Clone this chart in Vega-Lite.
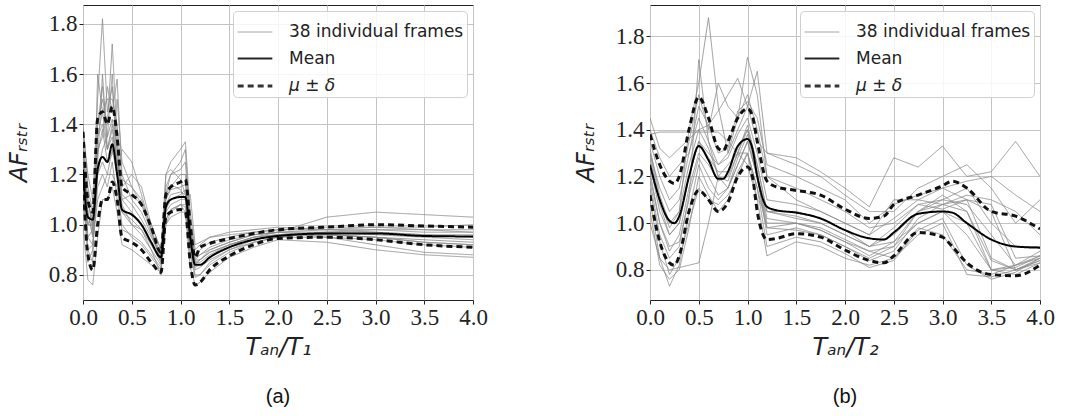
{
"$schema": "https://vega.github.io/schema/vega-lite/v6.json",
"padding": {"left": 6, "top": 4, "right": 5, "bottom": 5},
"background": "white",
"spacing": 85,
"resolve": {"scale": {"x": "independent", "y": "independent", "color": "independent", "strokeDash": "independent", "strokeWidth": "independent"}, "legend": {"color": "independent", "strokeDash": "independent", "strokeWidth": "independent"}},
"datasets": {
"pa": [
{"id":"a1","k":"f","x":0,"y":1.38},{"id":"a1","k":"f","x":0.05,"y":1.2},{"id":"a1","k":"f","x":0.1,"y":1.1},{"id":"a1","k":"f","x":0.15,"y":1.5},{"id":"a1","k":"f","x":0.2,"y":1.82},{"id":"a1","k":"f","x":0.25,"y":1.45},{"id":"a1","k":"f","x":0.3,"y":1.55},{"id":"a1","k":"f","x":0.35,"y":1.3},{"id":"a1","k":"f","x":0.4,"y":1.12},{"id":"a1","k":"f","x":0.5,"y":1.08},{"id":"a1","k":"f","x":0.6,"y":1.02},{"id":"a1","k":"f","x":0.7,"y":0.95},{"id":"a1","k":"f","x":0.8,"y":0.88},{"id":"a1","k":"f","x":0.85,"y":1.1},{"id":"a1","k":"f","x":0.9,"y":1.14},{"id":"a1","k":"f","x":1.0,"y":1.15},{"id":"a1","k":"f","x":1.05,"y":1.16},{"id":"a1","k":"f","x":1.1,"y":1.0},{"id":"a1","k":"f","x":1.15,"y":0.88},{"id":"a1","k":"f","x":1.2,"y":0.9},{"id":"a1","k":"f","x":1.3,"y":0.93},{"id":"a1","k":"f","x":1.5,"y":0.95},{"id":"a1","k":"f","x":1.75,"y":0.97},{"id":"a1","k":"f","x":2.0,"y":0.98},{"id":"a1","k":"f","x":2.5,"y":0.99},{"id":"a1","k":"f","x":3.0,"y":0.99},{"id":"a1","k":"f","x":3.5,"y":0.98},{"id":"a1","k":"f","x":4.0,"y":0.98},
{"id":"a2","k":"f","x":0,"y":1.3},{"id":"a2","k":"f","x":0.05,"y":1.05},{"id":"a2","k":"f","x":0.1,"y":0.95},{"id":"a2","k":"f","x":0.15,"y":1.4},{"id":"a2","k":"f","x":0.2,"y":1.5},{"id":"a2","k":"f","x":0.25,"y":1.4},{"id":"a2","k":"f","x":0.3,"y":1.72},{"id":"a2","k":"f","x":0.35,"y":1.35},{"id":"a2","k":"f","x":0.4,"y":1.1},{"id":"a2","k":"f","x":0.5,"y":1.05},{"id":"a2","k":"f","x":0.6,"y":1.0},{"id":"a2","k":"f","x":0.7,"y":0.92},{"id":"a2","k":"f","x":0.8,"y":0.85},{"id":"a2","k":"f","x":0.85,"y":1.12},{"id":"a2","k":"f","x":0.9,"y":1.2},{"id":"a2","k":"f","x":1.0,"y":1.25},{"id":"a2","k":"f","x":1.05,"y":1.3},{"id":"a2","k":"f","x":1.1,"y":1.0},{"id":"a2","k":"f","x":1.15,"y":0.86},{"id":"a2","k":"f","x":1.2,"y":0.88},{"id":"a2","k":"f","x":1.3,"y":0.91},{"id":"a2","k":"f","x":1.5,"y":0.94},{"id":"a2","k":"f","x":1.75,"y":0.96},{"id":"a2","k":"f","x":2.0,"y":0.97},{"id":"a2","k":"f","x":2.5,"y":1.03},{"id":"a2","k":"f","x":3.0,"y":1.05},{"id":"a2","k":"f","x":3.5,"y":1.04},{"id":"a2","k":"f","x":4.0,"y":1.03},
{"id":"a3","k":"f","x":0,"y":1.15},{"id":"a3","k":"f","x":0.05,"y":0.9},{"id":"a3","k":"f","x":0.1,"y":0.85},{"id":"a3","k":"f","x":0.15,"y":1.6},{"id":"a3","k":"f","x":0.2,"y":1.45},{"id":"a3","k":"f","x":0.25,"y":1.3},{"id":"a3","k":"f","x":0.3,"y":1.4},{"id":"a3","k":"f","x":0.35,"y":1.25},{"id":"a3","k":"f","x":0.4,"y":1.15},{"id":"a3","k":"f","x":0.5,"y":1.2},{"id":"a3","k":"f","x":0.6,"y":1.15},{"id":"a3","k":"f","x":0.7,"y":1.0},{"id":"a3","k":"f","x":0.8,"y":0.9},{"id":"a3","k":"f","x":0.85,"y":1.2},{"id":"a3","k":"f","x":0.9,"y":1.25},{"id":"a3","k":"f","x":1.0,"y":1.3},{"id":"a3","k":"f","x":1.05,"y":1.33},{"id":"a3","k":"f","x":1.1,"y":1.05},{"id":"a3","k":"f","x":1.15,"y":0.9},{"id":"a3","k":"f","x":1.2,"y":0.92},{"id":"a3","k":"f","x":1.3,"y":0.95},{"id":"a3","k":"f","x":1.5,"y":0.97},{"id":"a3","k":"f","x":1.75,"y":0.98},{"id":"a3","k":"f","x":2.0,"y":0.99},{"id":"a3","k":"f","x":2.5,"y":0.98},{"id":"a3","k":"f","x":3.0,"y":0.97},{"id":"a3","k":"f","x":3.5,"y":0.96},{"id":"a3","k":"f","x":4.0,"y":0.96},
{"id":"a4","k":"f","x":0,"y":1.0},{"id":"a4","k":"f","x":0.05,"y":0.78},{"id":"a4","k":"f","x":0.1,"y":0.76},{"id":"a4","k":"f","x":0.15,"y":0.95},{"id":"a4","k":"f","x":0.2,"y":1.1},{"id":"a4","k":"f","x":0.25,"y":1.1},{"id":"a4","k":"f","x":0.3,"y":1.15},{"id":"a4","k":"f","x":0.35,"y":1.05},{"id":"a4","k":"f","x":0.4,"y":0.92},{"id":"a4","k":"f","x":0.5,"y":0.9},{"id":"a4","k":"f","x":0.6,"y":0.87},{"id":"a4","k":"f","x":0.7,"y":0.84},{"id":"a4","k":"f","x":0.8,"y":0.81},{"id":"a4","k":"f","x":0.85,"y":1.0},{"id":"a4","k":"f","x":0.9,"y":1.03},{"id":"a4","k":"f","x":1.0,"y":1.05},{"id":"a4","k":"f","x":1.05,"y":1.05},{"id":"a4","k":"f","x":1.1,"y":0.83},{"id":"a4","k":"f","x":1.15,"y":0.76},{"id":"a4","k":"f","x":1.2,"y":0.77},{"id":"a4","k":"f","x":1.3,"y":0.81},{"id":"a4","k":"f","x":1.5,"y":0.87},{"id":"a4","k":"f","x":1.75,"y":0.91},{"id":"a4","k":"f","x":2.0,"y":0.94},{"id":"a4","k":"f","x":2.5,"y":0.93},{"id":"a4","k":"f","x":3.0,"y":0.9},{"id":"a4","k":"f","x":3.5,"y":0.88},{"id":"a4","k":"f","x":4.0,"y":0.87},
{"id":"a5","k":"f","x":0,"y":1.25},{"id":"a5","k":"f","x":0.05,"y":1.0},{"id":"a5","k":"f","x":0.1,"y":1.0},{"id":"a5","k":"f","x":0.15,"y":1.3},{"id":"a5","k":"f","x":0.2,"y":1.35},{"id":"a5","k":"f","x":0.25,"y":1.55},{"id":"a5","k":"f","x":0.3,"y":1.45},{"id":"a5","k":"f","x":0.35,"y":1.58},{"id":"a5","k":"f","x":0.4,"y":1.2},{"id":"a5","k":"f","x":0.5,"y":1.1},{"id":"a5","k":"f","x":0.6,"y":1.05},{"id":"a5","k":"f","x":0.7,"y":0.96},{"id":"a5","k":"f","x":0.8,"y":0.86},{"id":"a5","k":"f","x":0.85,"y":1.08},{"id":"a5","k":"f","x":0.9,"y":1.12},{"id":"a5","k":"f","x":1.0,"y":1.13},{"id":"a5","k":"f","x":1.05,"y":1.12},{"id":"a5","k":"f","x":1.1,"y":0.95},{"id":"a5","k":"f","x":1.15,"y":0.85},{"id":"a5","k":"f","x":1.2,"y":0.86},{"id":"a5","k":"f","x":1.3,"y":0.89},{"id":"a5","k":"f","x":1.5,"y":0.92},{"id":"a5","k":"f","x":1.75,"y":0.95},{"id":"a5","k":"f","x":2.0,"y":0.96},{"id":"a5","k":"f","x":2.5,"y":0.97},{"id":"a5","k":"f","x":3.0,"y":0.97},{"id":"a5","k":"f","x":3.5,"y":0.96},{"id":"a5","k":"f","x":4.0,"y":0.95},
{"id":"a6","k":"f","x":0,"y":1.3},{"id":"a6","k":"f","x":0.05,"y":1.1},{"id":"a6","k":"f","x":0.1,"y":0.98},{"id":"a6","k":"f","x":0.15,"y":1.2},{"id":"a6","k":"f","x":0.2,"y":1.25},{"id":"a6","k":"f","x":0.25,"y":1.2},{"id":"a6","k":"f","x":0.3,"y":1.3},{"id":"a6","k":"f","x":0.35,"y":1.2},{"id":"a6","k":"f","x":0.4,"y":1.3},{"id":"a6","k":"f","x":0.5,"y":1.25},{"id":"a6","k":"f","x":0.6,"y":1.12},{"id":"a6","k":"f","x":0.7,"y":0.98},{"id":"a6","k":"f","x":0.8,"y":0.88},{"id":"a6","k":"f","x":0.85,"y":1.02},{"id":"a6","k":"f","x":0.9,"y":1.06},{"id":"a6","k":"f","x":1.0,"y":1.08},{"id":"a6","k":"f","x":1.05,"y":1.08},{"id":"a6","k":"f","x":1.1,"y":1.12},{"id":"a6","k":"f","x":1.15,"y":0.92},{"id":"a6","k":"f","x":1.2,"y":0.93},{"id":"a6","k":"f","x":1.3,"y":0.95},{"id":"a6","k":"f","x":1.5,"y":0.96},{"id":"a6","k":"f","x":1.75,"y":0.97},{"id":"a6","k":"f","x":2.0,"y":0.98},{"id":"a6","k":"f","x":2.5,"y":0.98},{"id":"a6","k":"f","x":3.0,"y":0.99},{"id":"a6","k":"f","x":3.5,"y":0.99},{"id":"a6","k":"f","x":4.0,"y":1.0},
{"id":"a7","k":"f","x":0,"y":1.1},{"id":"a7","k":"f","x":0.05,"y":0.9},{"id":"a7","k":"f","x":0.1,"y":0.92},{"id":"a7","k":"f","x":0.15,"y":1.15},{"id":"a7","k":"f","x":0.2,"y":1.2},{"id":"a7","k":"f","x":0.25,"y":1.15},{"id":"a7","k":"f","x":0.3,"y":1.25},{"id":"a7","k":"f","x":0.35,"y":1.1},{"id":"a7","k":"f","x":0.4,"y":0.98},{"id":"a7","k":"f","x":0.5,"y":0.96},{"id":"a7","k":"f","x":0.6,"y":0.93},{"id":"a7","k":"f","x":0.7,"y":0.88},{"id":"a7","k":"f","x":0.8,"y":0.83},{"id":"a7","k":"f","x":0.85,"y":1.05},{"id":"a7","k":"f","x":0.9,"y":1.08},{"id":"a7","k":"f","x":1.0,"y":1.1},{"id":"a7","k":"f","x":1.05,"y":1.1},{"id":"a7","k":"f","x":1.1,"y":0.9},{"id":"a7","k":"f","x":1.15,"y":0.8},{"id":"a7","k":"f","x":1.2,"y":0.8},{"id":"a7","k":"f","x":1.3,"y":0.84},{"id":"a7","k":"f","x":1.5,"y":0.89},{"id":"a7","k":"f","x":1.75,"y":0.93},{"id":"a7","k":"f","x":2.0,"y":0.95},{"id":"a7","k":"f","x":2.5,"y":0.95},{"id":"a7","k":"f","x":3.0,"y":0.94},{"id":"a7","k":"f","x":3.5,"y":0.92},{"id":"a7","k":"f","x":4.0,"y":0.91},
{"id":"a8","k":"f","x":0,"y":1.4},{"id":"a8","k":"f","x":0.05,"y":1.15},{"id":"a8","k":"f","x":0.1,"y":1.05},{"id":"a8","k":"f","x":0.15,"y":1.35},{"id":"a8","k":"f","x":0.2,"y":1.4},{"id":"a8","k":"f","x":0.25,"y":1.3},{"id":"a8","k":"f","x":0.3,"y":1.38},{"id":"a8","k":"f","x":0.35,"y":1.25},{"id":"a8","k":"f","x":0.4,"y":1.08},{"id":"a8","k":"f","x":0.5,"y":1.0},{"id":"a8","k":"f","x":0.6,"y":0.98},{"id":"a8","k":"f","x":0.7,"y":0.9},{"id":"a8","k":"f","x":0.8,"y":0.8},{"id":"a8","k":"f","x":0.85,"y":1.2},{"id":"a8","k":"f","x":0.9,"y":1.22},{"id":"a8","k":"f","x":1.0,"y":1.18},{"id":"a8","k":"f","x":1.05,"y":1.12},{"id":"a8","k":"f","x":1.1,"y":0.97},{"id":"a8","k":"f","x":1.15,"y":0.86},{"id":"a8","k":"f","x":1.2,"y":0.86},{"id":"a8","k":"f","x":1.3,"y":0.89},{"id":"a8","k":"f","x":1.5,"y":0.92},{"id":"a8","k":"f","x":1.75,"y":0.95},{"id":"a8","k":"f","x":2.0,"y":0.96},{"id":"a8","k":"f","x":2.5,"y":0.96},{"id":"a8","k":"f","x":3.0,"y":0.95},{"id":"a8","k":"f","x":3.5,"y":0.93},{"id":"a8","k":"f","x":4.0,"y":0.92},
{"id":"a9","k":"f","x":0,"y":1.2},{"id":"a9","k":"f","x":0.05,"y":0.95},{"id":"a9","k":"f","x":0.1,"y":0.92},{"id":"a9","k":"f","x":0.15,"y":1.1},{"id":"a9","k":"f","x":0.2,"y":1.15},{"id":"a9","k":"f","x":0.25,"y":1.2},{"id":"a9","k":"f","x":0.3,"y":1.2},{"id":"a9","k":"f","x":0.35,"y":1.15},{"id":"a9","k":"f","x":0.4,"y":1.0},{"id":"a9","k":"f","x":0.5,"y":0.95},{"id":"a9","k":"f","x":0.6,"y":0.92},{"id":"a9","k":"f","x":0.7,"y":0.87},{"id":"a9","k":"f","x":0.8,"y":0.82},{"id":"a9","k":"f","x":0.85,"y":1.0},{"id":"a9","k":"f","x":0.9,"y":1.05},{"id":"a9","k":"f","x":1.0,"y":1.08},{"id":"a9","k":"f","x":1.05,"y":1.07},{"id":"a9","k":"f","x":1.1,"y":0.92},{"id":"a9","k":"f","x":1.15,"y":0.82},{"id":"a9","k":"f","x":1.2,"y":0.83},{"id":"a9","k":"f","x":1.3,"y":0.86},{"id":"a9","k":"f","x":1.5,"y":0.9},{"id":"a9","k":"f","x":1.75,"y":0.93},{"id":"a9","k":"f","x":2.0,"y":0.95},{"id":"a9","k":"f","x":2.5,"y":0.97},{"id":"a9","k":"f","x":3.0,"y":0.98},{"id":"a9","k":"f","x":3.5,"y":0.97},{"id":"a9","k":"f","x":4.0,"y":0.97},
{"id":"a10","k":"f","x":0,"y":1.35},{"id":"a10","k":"f","x":0.05,"y":1.0},{"id":"a10","k":"f","x":0.1,"y":1.05},{"id":"a10","k":"f","x":0.15,"y":1.25},{"id":"a10","k":"f","x":0.2,"y":1.6},{"id":"a10","k":"f","x":0.25,"y":1.3},{"id":"a10","k":"f","x":0.3,"y":1.35},{"id":"a10","k":"f","x":0.35,"y":1.2},{"id":"a10","k":"f","x":0.4,"y":1.1},{"id":"a10","k":"f","x":0.5,"y":1.12},{"id":"a10","k":"f","x":0.6,"y":1.08},{"id":"a10","k":"f","x":0.7,"y":1.0},{"id":"a10","k":"f","x":0.8,"y":0.9},{"id":"a10","k":"f","x":0.85,"y":1.1},{"id":"a10","k":"f","x":0.9,"y":1.15},{"id":"a10","k":"f","x":1.0,"y":1.2},{"id":"a10","k":"f","x":1.05,"y":1.2},{"id":"a10","k":"f","x":1.1,"y":0.98},{"id":"a10","k":"f","x":1.15,"y":0.87},{"id":"a10","k":"f","x":1.2,"y":0.88},{"id":"a10","k":"f","x":1.3,"y":0.9},{"id":"a10","k":"f","x":1.5,"y":0.93},{"id":"a10","k":"f","x":1.75,"y":0.96},{"id":"a10","k":"f","x":2.0,"y":0.97},{"id":"a10","k":"f","x":2.5,"y":0.95},{"id":"a10","k":"f","x":3.0,"y":0.92},{"id":"a10","k":"f","x":3.5,"y":0.89},{"id":"a10","k":"f","x":4.0,"y":0.88},
{"id":"a11","k":"f","x":0,"y":1.28},{"id":"a11","k":"f","x":0.05,"y":0.95},{"id":"a11","k":"f","x":0.1,"y":0.98},{"id":"a11","k":"f","x":0.15,"y":1.35},{"id":"a11","k":"f","x":0.2,"y":1.45},{"id":"a11","k":"f","x":0.25,"y":1.5},{"id":"a11","k":"f","x":0.3,"y":1.5},{"id":"a11","k":"f","x":0.35,"y":1.4},{"id":"a11","k":"f","x":0.4,"y":1.18},{"id":"a11","k":"f","x":0.5,"y":1.15},{"id":"a11","k":"f","x":0.6,"y":1.1},{"id":"a11","k":"f","x":0.7,"y":0.98},{"id":"a11","k":"f","x":0.8,"y":0.85},{"id":"a11","k":"f","x":0.85,"y":1.15},{"id":"a11","k":"f","x":0.9,"y":1.2},{"id":"a11","k":"f","x":1.0,"y":1.22},{"id":"a11","k":"f","x":1.05,"y":1.25},{"id":"a11","k":"f","x":1.1,"y":1.0},{"id":"a11","k":"f","x":1.15,"y":0.84},{"id":"a11","k":"f","x":1.2,"y":0.86},{"id":"a11","k":"f","x":1.3,"y":0.9},{"id":"a11","k":"f","x":1.5,"y":0.93},{"id":"a11","k":"f","x":1.75,"y":0.96},{"id":"a11","k":"f","x":2.0,"y":0.97},{"id":"a11","k":"f","x":2.5,"y":0.97},{"id":"a11","k":"f","x":3.0,"y":0.96},{"id":"a11","k":"f","x":3.5,"y":0.95},{"id":"a11","k":"f","x":4.0,"y":0.94},
{"id":"a12","k":"f","x":0,"y":1.18},{"id":"a12","k":"f","x":0.05,"y":0.85},{"id":"a12","k":"f","x":0.1,"y":0.9},{"id":"a12","k":"f","x":0.15,"y":1.2},{"id":"a12","k":"f","x":0.2,"y":1.3},{"id":"a12","k":"f","x":0.25,"y":1.35},{"id":"a12","k":"f","x":0.3,"y":1.42},{"id":"a12","k":"f","x":0.35,"y":1.3},{"id":"a12","k":"f","x":0.4,"y":1.05},{"id":"a12","k":"f","x":0.5,"y":1.0},{"id":"a12","k":"f","x":0.6,"y":0.96},{"id":"a12","k":"f","x":0.7,"y":0.9},{"id":"a12","k":"f","x":0.8,"y":0.84},{"id":"a12","k":"f","x":0.85,"y":1.02},{"id":"a12","k":"f","x":0.9,"y":1.06},{"id":"a12","k":"f","x":1.0,"y":1.08},{"id":"a12","k":"f","x":1.05,"y":1.05},{"id":"a12","k":"f","x":1.1,"y":0.88},{"id":"a12","k":"f","x":1.15,"y":0.79},{"id":"a12","k":"f","x":1.2,"y":0.8},{"id":"a12","k":"f","x":1.3,"y":0.85},{"id":"a12","k":"f","x":1.5,"y":0.9},{"id":"a12","k":"f","x":1.75,"y":0.94},{"id":"a12","k":"f","x":2.0,"y":0.96},{"id":"a12","k":"f","x":2.5,"y":0.96},{"id":"a12","k":"f","x":3.0,"y":0.95},{"id":"a12","k":"f","x":3.5,"y":0.94},{"id":"a12","k":"f","x":4.0,"y":0.93},
{"id":"a13","k":"f","x":0,"y":1.32},{"id":"a13","k":"f","x":0.05,"y":1.05},{"id":"a13","k":"f","x":0.1,"y":0.96},{"id":"a13","k":"f","x":0.15,"y":1.28},{"id":"a13","k":"f","x":0.2,"y":1.38},{"id":"a13","k":"f","x":0.25,"y":1.25},{"id":"a13","k":"f","x":0.3,"y":1.28},{"id":"a13","k":"f","x":0.35,"y":1.5},{"id":"a13","k":"f","x":0.4,"y":1.25},{"id":"a13","k":"f","x":0.5,"y":1.15},{"id":"a13","k":"f","x":0.6,"y":1.08},{"id":"a13","k":"f","x":0.7,"y":0.97},{"id":"a13","k":"f","x":0.8,"y":0.87},{"id":"a13","k":"f","x":0.85,"y":1.12},{"id":"a13","k":"f","x":0.9,"y":1.16},{"id":"a13","k":"f","x":1.0,"y":1.14},{"id":"a13","k":"f","x":1.05,"y":1.1},{"id":"a13","k":"f","x":1.1,"y":0.95},{"id":"a13","k":"f","x":1.15,"y":0.85},{"id":"a13","k":"f","x":1.2,"y":0.85},{"id":"a13","k":"f","x":1.3,"y":0.88},{"id":"a13","k":"f","x":1.5,"y":0.92},{"id":"a13","k":"f","x":1.75,"y":0.95},{"id":"a13","k":"f","x":2.0,"y":0.97},{"id":"a13","k":"f","x":2.5,"y":0.98},{"id":"a13","k":"f","x":3.0,"y":0.98},{"id":"a13","k":"f","x":3.5,"y":0.98},{"id":"a13","k":"f","x":4.0,"y":0.97},
{"id":"a14","k":"f","x":0,"y":1.25},{"id":"a14","k":"f","x":0.05,"y":1.1},{"id":"a14","k":"f","x":0.1,"y":1.0},{"id":"a14","k":"f","x":0.15,"y":1.4},{"id":"a14","k":"f","x":0.2,"y":1.55},{"id":"a14","k":"f","x":0.25,"y":1.35},{"id":"a14","k":"f","x":0.3,"y":1.6},{"id":"a14","k":"f","x":0.35,"y":1.2},{"id":"a14","k":"f","x":0.4,"y":1.05},{"id":"a14","k":"f","x":0.5,"y":1.02},{"id":"a14","k":"f","x":0.6,"y":0.98},{"id":"a14","k":"f","x":0.7,"y":0.92},{"id":"a14","k":"f","x":0.8,"y":0.86},{"id":"a14","k":"f","x":0.85,"y":1.06},{"id":"a14","k":"f","x":0.9,"y":1.1},{"id":"a14","k":"f","x":1.0,"y":1.12},{"id":"a14","k":"f","x":1.05,"y":1.14},{"id":"a14","k":"f","x":1.1,"y":0.93},{"id":"a14","k":"f","x":1.15,"y":0.83},{"id":"a14","k":"f","x":1.2,"y":0.84},{"id":"a14","k":"f","x":1.3,"y":0.87},{"id":"a14","k":"f","x":1.5,"y":0.91},{"id":"a14","k":"f","x":1.75,"y":0.94},{"id":"a14","k":"f","x":2.0,"y":0.955},{"id":"a14","k":"f","x":2.5,"y":0.96},{"id":"a14","k":"f","x":3.0,"y":0.95},{"id":"a14","k":"f","x":3.5,"y":0.93},{"id":"a14","k":"f","x":4.0,"y":0.92},
{"id":"am","k":"m","x":0,"y":1.22},{"id":"am","k":"m","x":0.05,"y":1.03},{"id":"am","k":"m","x":0.1,"y":1.02},{"id":"am","k":"m","x":0.15,"y":1.22},{"id":"am","k":"m","x":0.2,"y":1.27},{"id":"am","k":"m","x":0.25,"y":1.25},{"id":"am","k":"m","x":0.3,"y":1.32},{"id":"am","k":"m","x":0.35,"y":1.2},{"id":"am","k":"m","x":0.4,"y":1.06},{"id":"am","k":"m","x":0.5,"y":1.04},{"id":"am","k":"m","x":0.6,"y":1.0},{"id":"am","k":"m","x":0.7,"y":0.93},{"id":"am","k":"m","x":0.8,"y":0.87},{"id":"am","k":"m","x":0.85,"y":1.07},{"id":"am","k":"m","x":0.9,"y":1.1},{"id":"am","k":"m","x":1.0,"y":1.11},{"id":"am","k":"m","x":1.05,"y":1.11},{"id":"am","k":"m","x":1.1,"y":0.95},{"id":"am","k":"m","x":1.15,"y":0.84},{"id":"am","k":"m","x":1.2,"y":0.84},{"id":"am","k":"m","x":1.3,"y":0.87},{"id":"am","k":"m","x":1.5,"y":0.91},{"id":"am","k":"m","x":1.75,"y":0.94},{"id":"am","k":"m","x":2.0,"y":0.955},{"id":"am","k":"m","x":2.5,"y":0.965},{"id":"am","k":"m","x":3.0,"y":0.965},{"id":"am","k":"m","x":3.5,"y":0.955},{"id":"am","k":"m","x":4.0,"y":0.953},
{"id":"au","k":"d","x":0,"y":1.37},{"id":"au","k":"d","x":0.05,"y":1.1},{"id":"au","k":"d","x":0.1,"y":1.05},{"id":"au","k":"d","x":0.15,"y":1.42},{"id":"au","k":"d","x":0.2,"y":1.45},{"id":"au","k":"d","x":0.25,"y":1.4},{"id":"au","k":"d","x":0.3,"y":1.47},{"id":"au","k":"d","x":0.35,"y":1.35},{"id":"au","k":"d","x":0.4,"y":1.15},{"id":"au","k":"d","x":0.5,"y":1.12},{"id":"au","k":"d","x":0.6,"y":1.08},{"id":"au","k":"d","x":0.7,"y":0.99},{"id":"au","k":"d","x":0.8,"y":0.89},{"id":"au","k":"d","x":0.85,"y":1.12},{"id":"au","k":"d","x":0.9,"y":1.15},{"id":"au","k":"d","x":1.0,"y":1.17},{"id":"au","k":"d","x":1.05,"y":1.18},{"id":"au","k":"d","x":1.1,"y":1.0},{"id":"au","k":"d","x":1.15,"y":0.87},{"id":"au","k":"d","x":1.2,"y":0.91},{"id":"au","k":"d","x":1.3,"y":0.925},{"id":"au","k":"d","x":1.5,"y":0.945},{"id":"au","k":"d","x":1.75,"y":0.965},{"id":"au","k":"d","x":2.0,"y":0.98},{"id":"au","k":"d","x":2.5,"y":0.99},{"id":"au","k":"d","x":3.0,"y":1.0},{"id":"au","k":"d","x":3.5,"y":0.995},{"id":"au","k":"d","x":4.0,"y":0.99},
{"id":"al","k":"d","x":0,"y":1.2},{"id":"al","k":"d","x":0.05,"y":0.88},{"id":"al","k":"d","x":0.1,"y":0.82},{"id":"al","k":"d","x":0.15,"y":1.0},{"id":"al","k":"d","x":0.2,"y":1.1},{"id":"al","k":"d","x":0.25,"y":1.1},{"id":"al","k":"d","x":0.3,"y":1.17},{"id":"al","k":"d","x":0.35,"y":1.1},{"id":"al","k":"d","x":0.4,"y":0.95},{"id":"al","k":"d","x":0.5,"y":0.93},{"id":"al","k":"d","x":0.6,"y":0.9},{"id":"al","k":"d","x":0.7,"y":0.85},{"id":"al","k":"d","x":0.8,"y":0.81},{"id":"al","k":"d","x":0.85,"y":1.03},{"id":"al","k":"d","x":0.9,"y":1.05},{"id":"al","k":"d","x":1.0,"y":1.06},{"id":"al","k":"d","x":1.05,"y":1.05},{"id":"al","k":"d","x":1.1,"y":0.85},{"id":"al","k":"d","x":1.15,"y":0.76},{"id":"al","k":"d","x":1.2,"y":0.77},{"id":"al","k":"d","x":1.3,"y":0.82},{"id":"al","k":"d","x":1.5,"y":0.875},{"id":"al","k":"d","x":1.75,"y":0.92},{"id":"al","k":"d","x":2.0,"y":0.945},{"id":"al","k":"d","x":2.5,"y":0.95},{"id":"al","k":"d","x":3.0,"y":0.94},{"id":"al","k":"d","x":3.5,"y":0.92},{"id":"al","k":"d","x":4.0,"y":0.91}
],
"pb": [
{"id":"b1","k":"f","x":0,"y":1.45},{"id":"b1","k":"f","x":0.1,"y":1.32},{"id":"b1","k":"f","x":0.2,"y":1.28},{"id":"b1","k":"f","x":0.3,"y":1.32},{"id":"b1","k":"f","x":0.4,"y":1.36},{"id":"b1","k":"f","x":0.5,"y":1.4},{"id":"b1","k":"f","x":0.6,"y":1.42},{"id":"b1","k":"f","x":0.7,"y":1.48},{"id":"b1","k":"f","x":0.8,"y":1.55},{"id":"b1","k":"f","x":0.9,"y":1.62},{"id":"b1","k":"f","x":1.0,"y":1.5},{"id":"b1","k":"f","x":1.1,"y":1.35},{"id":"b1","k":"f","x":1.2,"y":1.3},{"id":"b1","k":"f","x":1.5,"y":1.28},{"id":"b1","k":"f","x":1.75,"y":1.22},{"id":"b1","k":"f","x":2.0,"y":1.15},{"id":"b1","k":"f","x":2.25,"y":1.07},{"id":"b1","k":"f","x":2.5,"y":1.28},{"id":"b1","k":"f","x":2.75,"y":1.24},{"id":"b1","k":"f","x":3.0,"y":1.33},{"id":"b1","k":"f","x":3.25,"y":1.2},{"id":"b1","k":"f","x":3.5,"y":1.22},{"id":"b1","k":"f","x":3.75,"y":1.35},{"id":"b1","k":"f","x":4.0,"y":1.2},
{"id":"b2","k":"f","x":0,"y":1.3},{"id":"b2","k":"f","x":0.1,"y":1.1},{"id":"b2","k":"f","x":0.2,"y":0.98},{"id":"b2","k":"f","x":0.3,"y":1.05},{"id":"b2","k":"f","x":0.4,"y":1.4},{"id":"b2","k":"f","x":0.5,"y":1.6},{"id":"b2","k":"f","x":0.6,"y":1.88},{"id":"b2","k":"f","x":0.7,"y":1.5},{"id":"b2","k":"f","x":0.8,"y":1.3},{"id":"b2","k":"f","x":0.9,"y":1.45},{"id":"b2","k":"f","x":1.0,"y":1.71},{"id":"b2","k":"f","x":1.1,"y":1.55},{"id":"b2","k":"f","x":1.2,"y":1.2},{"id":"b2","k":"f","x":1.5,"y":1.1},{"id":"b2","k":"f","x":1.75,"y":1.05},{"id":"b2","k":"f","x":2.0,"y":1.0},{"id":"b2","k":"f","x":2.25,"y":0.95},{"id":"b2","k":"f","x":2.5,"y":1.1},{"id":"b2","k":"f","x":2.75,"y":1.1},{"id":"b2","k":"f","x":3.0,"y":1.15},{"id":"b2","k":"f","x":3.25,"y":1.1},{"id":"b2","k":"f","x":3.5,"y":0.85},{"id":"b2","k":"f","x":3.75,"y":0.8},{"id":"b2","k":"f","x":4.0,"y":0.85},
{"id":"b3","k":"f","x":0,"y":1.25},{"id":"b3","k":"f","x":0.1,"y":1.05},{"id":"b3","k":"f","x":0.2,"y":0.95},{"id":"b3","k":"f","x":0.3,"y":1.0},{"id":"b3","k":"f","x":0.4,"y":1.2},{"id":"b3","k":"f","x":0.5,"y":1.35},{"id":"b3","k":"f","x":0.6,"y":1.3},{"id":"b3","k":"f","x":0.7,"y":1.25},{"id":"b3","k":"f","x":0.8,"y":1.3},{"id":"b3","k":"f","x":0.9,"y":1.4},{"id":"b3","k":"f","x":1.0,"y":1.5},{"id":"b3","k":"f","x":1.1,"y":1.65},{"id":"b3","k":"f","x":1.2,"y":1.3},{"id":"b3","k":"f","x":1.5,"y":1.25},{"id":"b3","k":"f","x":1.75,"y":1.2},{"id":"b3","k":"f","x":2.0,"y":1.12},{"id":"b3","k":"f","x":2.25,"y":1.05},{"id":"b3","k":"f","x":2.5,"y":1.05},{"id":"b3","k":"f","x":2.75,"y":1.15},{"id":"b3","k":"f","x":3.0,"y":1.2},{"id":"b3","k":"f","x":3.25,"y":1.25},{"id":"b3","k":"f","x":3.5,"y":1.15},{"id":"b3","k":"f","x":3.75,"y":1.0},{"id":"b3","k":"f","x":4.0,"y":1.1},
{"id":"b4","k":"f","x":0,"y":1.38},{"id":"b4","k":"f","x":0.1,"y":1.39},{"id":"b4","k":"f","x":0.2,"y":1.39},{"id":"b4","k":"f","x":0.3,"y":1.39},{"id":"b4","k":"f","x":0.4,"y":1.39},{"id":"b4","k":"f","x":0.5,"y":1.39},{"id":"b4","k":"f","x":0.6,"y":1.39},{"id":"b4","k":"f","x":0.7,"y":1.39},{"id":"b4","k":"f","x":0.8,"y":1.35},{"id":"b4","k":"f","x":0.9,"y":1.3},{"id":"b4","k":"f","x":1.0,"y":1.25},{"id":"b4","k":"f","x":1.1,"y":1.1},{"id":"b4","k":"f","x":1.2,"y":1.05},{"id":"b4","k":"f","x":1.5,"y":1.02},{"id":"b4","k":"f","x":1.75,"y":1.0},{"id":"b4","k":"f","x":2.0,"y":0.95},{"id":"b4","k":"f","x":2.25,"y":0.9},{"id":"b4","k":"f","x":2.5,"y":0.92},{"id":"b4","k":"f","x":2.75,"y":1.0},{"id":"b4","k":"f","x":3.0,"y":1.05},{"id":"b4","k":"f","x":3.25,"y":0.95},{"id":"b4","k":"f","x":3.5,"y":0.8},{"id":"b4","k":"f","x":3.75,"y":0.82},{"id":"b4","k":"f","x":4.0,"y":0.86},
{"id":"b5","k":"f","x":0,"y":1.15},{"id":"b5","k":"f","x":0.1,"y":0.92},{"id":"b5","k":"f","x":0.2,"y":0.78},{"id":"b5","k":"f","x":0.3,"y":0.85},{"id":"b5","k":"f","x":0.4,"y":1.0},{"id":"b5","k":"f","x":0.5,"y":1.15},{"id":"b5","k":"f","x":0.6,"y":1.1},{"id":"b5","k":"f","x":0.7,"y":1.08},{"id":"b5","k":"f","x":0.8,"y":1.12},{"id":"b5","k":"f","x":0.9,"y":1.2},{"id":"b5","k":"f","x":1.0,"y":1.3},{"id":"b5","k":"f","x":1.1,"y":1.1},{"id":"b5","k":"f","x":1.2,"y":0.86},{"id":"b5","k":"f","x":1.5,"y":0.92},{"id":"b5","k":"f","x":1.75,"y":0.9},{"id":"b5","k":"f","x":2.0,"y":0.85},{"id":"b5","k":"f","x":2.25,"y":0.82},{"id":"b5","k":"f","x":2.5,"y":0.85},{"id":"b5","k":"f","x":2.75,"y":0.95},{"id":"b5","k":"f","x":3.0,"y":1.0},{"id":"b5","k":"f","x":3.25,"y":0.78},{"id":"b5","k":"f","x":3.5,"y":0.77},{"id":"b5","k":"f","x":3.75,"y":0.8},{"id":"b5","k":"f","x":4.0,"y":0.84},
{"id":"b6","k":"f","x":0,"y":1.1},{"id":"b6","k":"f","x":0.1,"y":0.85},{"id":"b6","k":"f","x":0.2,"y":0.73},{"id":"b6","k":"f","x":0.3,"y":0.82},{"id":"b6","k":"f","x":0.4,"y":1.05},{"id":"b6","k":"f","x":0.5,"y":1.25},{"id":"b6","k":"f","x":0.6,"y":1.15},{"id":"b6","k":"f","x":0.7,"y":1.1},{"id":"b6","k":"f","x":0.8,"y":1.15},{"id":"b6","k":"f","x":0.9,"y":1.25},{"id":"b6","k":"f","x":1.0,"y":1.35},{"id":"b6","k":"f","x":1.1,"y":1.2},{"id":"b6","k":"f","x":1.2,"y":0.95},{"id":"b6","k":"f","x":1.5,"y":0.98},{"id":"b6","k":"f","x":1.75,"y":0.95},{"id":"b6","k":"f","x":2.0,"y":0.9},{"id":"b6","k":"f","x":2.25,"y":0.85},{"id":"b6","k":"f","x":2.5,"y":0.9},{"id":"b6","k":"f","x":2.75,"y":1.05},{"id":"b6","k":"f","x":3.0,"y":1.08},{"id":"b6","k":"f","x":3.25,"y":1.05},{"id":"b6","k":"f","x":3.5,"y":0.8},{"id":"b6","k":"f","x":3.75,"y":0.81},{"id":"b6","k":"f","x":4.0,"y":0.86},
{"id":"b7","k":"f","x":0,"y":1.2},{"id":"b7","k":"f","x":0.1,"y":1.0},{"id":"b7","k":"f","x":0.2,"y":0.88},{"id":"b7","k":"f","x":0.3,"y":0.95},{"id":"b7","k":"f","x":0.4,"y":1.15},{"id":"b7","k":"f","x":0.5,"y":1.3},{"id":"b7","k":"f","x":0.6,"y":1.25},{"id":"b7","k":"f","x":0.7,"y":1.18},{"id":"b7","k":"f","x":0.8,"y":1.2},{"id":"b7","k":"f","x":0.9,"y":1.3},{"id":"b7","k":"f","x":1.0,"y":1.4},{"id":"b7","k":"f","x":1.1,"y":1.25},{"id":"b7","k":"f","x":1.2,"y":1.05},{"id":"b7","k":"f","x":1.5,"y":1.03},{"id":"b7","k":"f","x":1.75,"y":1.0},{"id":"b7","k":"f","x":2.0,"y":0.95},{"id":"b7","k":"f","x":2.25,"y":0.9},{"id":"b7","k":"f","x":2.5,"y":0.95},{"id":"b7","k":"f","x":2.75,"y":1.05},{"id":"b7","k":"f","x":3.0,"y":1.1},{"id":"b7","k":"f","x":3.25,"y":1.08},{"id":"b7","k":"f","x":3.5,"y":0.95},{"id":"b7","k":"f","x":3.75,"y":0.82},{"id":"b7","k":"f","x":4.0,"y":0.85},
{"id":"b8","k":"f","x":0,"y":1.3},{"id":"b8","k":"f","x":0.1,"y":1.15},{"id":"b8","k":"f","x":0.2,"y":1.05},{"id":"b8","k":"f","x":0.3,"y":1.1},{"id":"b8","k":"f","x":0.4,"y":1.3},{"id":"b8","k":"f","x":0.5,"y":1.45},{"id":"b8","k":"f","x":0.6,"y":1.35},{"id":"b8","k":"f","x":0.7,"y":1.25},{"id":"b8","k":"f","x":0.8,"y":1.28},{"id":"b8","k":"f","x":0.9,"y":1.38},{"id":"b8","k":"f","x":1.0,"y":1.45},{"id":"b8","k":"f","x":1.1,"y":1.3},{"id":"b8","k":"f","x":1.2,"y":1.1},{"id":"b8","k":"f","x":1.5,"y":1.08},{"id":"b8","k":"f","x":1.75,"y":1.05},{"id":"b8","k":"f","x":2.0,"y":1.0},{"id":"b8","k":"f","x":2.25,"y":0.95},{"id":"b8","k":"f","x":2.5,"y":1.02},{"id":"b8","k":"f","x":2.75,"y":1.1},{"id":"b8","k":"f","x":3.0,"y":1.08},{"id":"b8","k":"f","x":3.25,"y":1.12},{"id":"b8","k":"f","x":3.5,"y":1.1},{"id":"b8","k":"f","x":3.75,"y":1.05},{"id":"b8","k":"f","x":4.0,"y":0.95},
{"id":"b9","k":"f","x":0,"y":1.0},{"id":"b9","k":"f","x":0.1,"y":0.85},{"id":"b9","k":"f","x":0.2,"y":0.8},{"id":"b9","k":"f","x":0.3,"y":0.81},{"id":"b9","k":"f","x":0.4,"y":0.82},{"id":"b9","k":"f","x":0.5,"y":0.83},{"id":"b9","k":"f","x":0.6,"y":1.0},{"id":"b9","k":"f","x":0.7,"y":1.2},{"id":"b9","k":"f","x":0.8,"y":1.25},{"id":"b9","k":"f","x":0.9,"y":1.3},{"id":"b9","k":"f","x":1.0,"y":1.3},{"id":"b9","k":"f","x":1.1,"y":1.15},{"id":"b9","k":"f","x":1.2,"y":0.98},{"id":"b9","k":"f","x":1.5,"y":1.0},{"id":"b9","k":"f","x":1.75,"y":0.97},{"id":"b9","k":"f","x":2.0,"y":0.92},{"id":"b9","k":"f","x":2.25,"y":0.88},{"id":"b9","k":"f","x":2.5,"y":0.85},{"id":"b9","k":"f","x":2.75,"y":0.98},{"id":"b9","k":"f","x":3.0,"y":0.95},{"id":"b9","k":"f","x":3.25,"y":0.8},{"id":"b9","k":"f","x":3.5,"y":0.78},{"id":"b9","k":"f","x":3.75,"y":0.82},{"id":"b9","k":"f","x":4.0,"y":0.88},
{"id":"b10","k":"f","x":0,"y":1.35},{"id":"b10","k":"f","x":0.1,"y":1.2},{"id":"b10","k":"f","x":0.2,"y":1.1},{"id":"b10","k":"f","x":0.3,"y":1.15},{"id":"b10","k":"f","x":0.4,"y":1.35},{"id":"b10","k":"f","x":0.5,"y":1.55},{"id":"b10","k":"f","x":0.6,"y":1.4},{"id":"b10","k":"f","x":0.7,"y":1.6},{"id":"b10","k":"f","x":0.8,"y":1.5},{"id":"b10","k":"f","x":0.9,"y":1.45},{"id":"b10","k":"f","x":1.0,"y":1.55},{"id":"b10","k":"f","x":1.1,"y":1.4},{"id":"b10","k":"f","x":1.2,"y":1.2},{"id":"b10","k":"f","x":1.5,"y":1.15},{"id":"b10","k":"f","x":1.75,"y":1.1},{"id":"b10","k":"f","x":2.0,"y":1.05},{"id":"b10","k":"f","x":2.25,"y":0.98},{"id":"b10","k":"f","x":2.5,"y":1.0},{"id":"b10","k":"f","x":2.75,"y":1.08},{"id":"b10","k":"f","x":3.0,"y":1.1},{"id":"b10","k":"f","x":3.25,"y":1.15},{"id":"b10","k":"f","x":3.5,"y":1.0},{"id":"b10","k":"f","x":3.75,"y":0.9},{"id":"b10","k":"f","x":4.0,"y":0.9},
{"id":"b11","k":"f","x":0,"y":1.22},{"id":"b11","k":"f","x":0.1,"y":1.0},{"id":"b11","k":"f","x":0.2,"y":0.9},{"id":"b11","k":"f","x":0.3,"y":0.92},{"id":"b11","k":"f","x":0.4,"y":1.1},{"id":"b11","k":"f","x":0.5,"y":1.7},{"id":"b11","k":"f","x":0.6,"y":1.35},{"id":"b11","k":"f","x":0.7,"y":1.2},{"id":"b11","k":"f","x":0.8,"y":1.15},{"id":"b11","k":"f","x":0.9,"y":1.25},{"id":"b11","k":"f","x":1.0,"y":1.35},{"id":"b11","k":"f","x":1.1,"y":1.2},{"id":"b11","k":"f","x":1.2,"y":1.0},{"id":"b11","k":"f","x":1.5,"y":1.0},{"id":"b11","k":"f","x":1.75,"y":0.98},{"id":"b11","k":"f","x":2.0,"y":0.93},{"id":"b11","k":"f","x":2.25,"y":0.88},{"id":"b11","k":"f","x":2.5,"y":0.9},{"id":"b11","k":"f","x":2.75,"y":1.0},{"id":"b11","k":"f","x":3.0,"y":1.05},{"id":"b11","k":"f","x":3.25,"y":1.0},{"id":"b11","k":"f","x":3.5,"y":0.8},{"id":"b11","k":"f","x":3.75,"y":0.78},{"id":"b11","k":"f","x":4.0,"y":0.83},
{"id":"b12","k":"f","x":0,"y":1.28},{"id":"b12","k":"f","x":0.1,"y":1.08},{"id":"b12","k":"f","x":0.2,"y":0.95},{"id":"b12","k":"f","x":0.3,"y":1.0},{"id":"b12","k":"f","x":0.4,"y":1.2},{"id":"b12","k":"f","x":0.5,"y":1.35},{"id":"b12","k":"f","x":0.6,"y":1.28},{"id":"b12","k":"f","x":0.7,"y":1.22},{"id":"b12","k":"f","x":0.8,"y":1.22},{"id":"b12","k":"f","x":0.9,"y":1.32},{"id":"b12","k":"f","x":1.0,"y":1.4},{"id":"b12","k":"f","x":1.1,"y":1.22},{"id":"b12","k":"f","x":1.2,"y":1.02},{"id":"b12","k":"f","x":1.5,"y":1.0},{"id":"b12","k":"f","x":1.75,"y":0.97},{"id":"b12","k":"f","x":2.0,"y":0.92},{"id":"b12","k":"f","x":2.25,"y":0.86},{"id":"b12","k":"f","x":2.5,"y":0.92},{"id":"b12","k":"f","x":2.75,"y":1.05},{"id":"b12","k":"f","x":3.0,"y":1.12},{"id":"b12","k":"f","x":3.25,"y":1.05},{"id":"b12","k":"f","x":3.5,"y":0.84},{"id":"b12","k":"f","x":3.75,"y":0.8},{"id":"b12","k":"f","x":4.0,"y":0.84},
{"id":"b13","k":"f","x":0,"y":1.18},{"id":"b13","k":"f","x":0.1,"y":0.95},{"id":"b13","k":"f","x":0.2,"y":0.85},{"id":"b13","k":"f","x":0.3,"y":0.9},{"id":"b13","k":"f","x":0.4,"y":1.12},{"id":"b13","k":"f","x":0.5,"y":1.28},{"id":"b13","k":"f","x":0.6,"y":1.2},{"id":"b13","k":"f","x":0.7,"y":1.12},{"id":"b13","k":"f","x":0.8,"y":1.15},{"id":"b13","k":"f","x":0.9,"y":1.28},{"id":"b13","k":"f","x":1.0,"y":1.38},{"id":"b13","k":"f","x":1.1,"y":1.2},{"id":"b13","k":"f","x":1.2,"y":0.98},{"id":"b13","k":"f","x":1.5,"y":0.97},{"id":"b13","k":"f","x":1.75,"y":0.95},{"id":"b13","k":"f","x":2.0,"y":0.9},{"id":"b13","k":"f","x":2.25,"y":0.84},{"id":"b13","k":"f","x":2.5,"y":0.88},{"id":"b13","k":"f","x":2.75,"y":1.02},{"id":"b13","k":"f","x":3.0,"y":1.08},{"id":"b13","k":"f","x":3.25,"y":1.1},{"id":"b13","k":"f","x":3.5,"y":1.05},{"id":"b13","k":"f","x":3.75,"y":0.8},{"id":"b13","k":"f","x":4.0,"y":0.83},
{"id":"b14","k":"f","x":0,"y":1.32},{"id":"b14","k":"f","x":0.1,"y":1.12},{"id":"b14","k":"f","x":0.2,"y":1.0},{"id":"b14","k":"f","x":0.3,"y":1.05},{"id":"b14","k":"f","x":0.4,"y":1.25},{"id":"b14","k":"f","x":0.5,"y":1.4},{"id":"b14","k":"f","x":0.6,"y":1.32},{"id":"b14","k":"f","x":0.7,"y":1.2},{"id":"b14","k":"f","x":0.8,"y":1.18},{"id":"b14","k":"f","x":0.9,"y":1.3},{"id":"b14","k":"f","x":1.0,"y":1.42},{"id":"b14","k":"f","x":1.1,"y":1.25},{"id":"b14","k":"f","x":1.2,"y":1.05},{"id":"b14","k":"f","x":1.5,"y":1.05},{"id":"b14","k":"f","x":1.75,"y":1.02},{"id":"b14","k":"f","x":2.0,"y":0.97},{"id":"b14","k":"f","x":2.25,"y":0.9},{"id":"b14","k":"f","x":2.5,"y":0.98},{"id":"b14","k":"f","x":2.75,"y":1.08},{"id":"b14","k":"f","x":3.0,"y":1.06},{"id":"b14","k":"f","x":3.25,"y":1.1},{"id":"b14","k":"f","x":3.5,"y":1.08},{"id":"b14","k":"f","x":3.75,"y":0.85},{"id":"b14","k":"f","x":4.0,"y":0.86},
{"id":"b15","k":"f","x":0,"y":1.05},{"id":"b15","k":"f","x":0.1,"y":0.82},{"id":"b15","k":"f","x":0.2,"y":0.76},{"id":"b15","k":"f","x":0.3,"y":0.8},{"id":"b15","k":"f","x":0.4,"y":0.98},{"id":"b15","k":"f","x":0.5,"y":1.2},{"id":"b15","k":"f","x":0.6,"y":1.12},{"id":"b15","k":"f","x":0.7,"y":1.05},{"id":"b15","k":"f","x":0.8,"y":1.1},{"id":"b15","k":"f","x":0.9,"y":1.22},{"id":"b15","k":"f","x":1.0,"y":1.3},{"id":"b15","k":"f","x":1.1,"y":1.15},{"id":"b15","k":"f","x":1.2,"y":0.9},{"id":"b15","k":"f","x":1.5,"y":0.94},{"id":"b15","k":"f","x":1.75,"y":0.92},{"id":"b15","k":"f","x":2.0,"y":0.87},{"id":"b15","k":"f","x":2.25,"y":0.81},{"id":"b15","k":"f","x":2.5,"y":0.84},{"id":"b15","k":"f","x":2.75,"y":0.97},{"id":"b15","k":"f","x":3.0,"y":1.02},{"id":"b15","k":"f","x":3.25,"y":0.82},{"id":"b15","k":"f","x":3.5,"y":0.76},{"id":"b15","k":"f","x":3.75,"y":0.79},{"id":"b15","k":"f","x":4.0,"y":0.85},
{"id":"b16","k":"f","x":0,"y":1.4},{"id":"b16","k":"f","x":0.1,"y":1.28},{"id":"b16","k":"f","x":0.2,"y":1.2},{"id":"b16","k":"f","x":0.3,"y":1.25},{"id":"b16","k":"f","x":0.4,"y":1.3},{"id":"b16","k":"f","x":0.5,"y":1.5},{"id":"b16","k":"f","x":0.6,"y":1.42},{"id":"b16","k":"f","x":0.7,"y":1.3},{"id":"b16","k":"f","x":0.8,"y":1.32},{"id":"b16","k":"f","x":0.9,"y":1.48},{"id":"b16","k":"f","x":1.0,"y":1.52},{"id":"b16","k":"f","x":1.1,"y":1.45},{"id":"b16","k":"f","x":1.2,"y":1.25},{"id":"b16","k":"f","x":1.5,"y":1.2},{"id":"b16","k":"f","x":1.75,"y":1.15},{"id":"b16","k":"f","x":2.0,"y":1.1},{"id":"b16","k":"f","x":2.25,"y":1.0},{"id":"b16","k":"f","x":2.5,"y":1.08},{"id":"b16","k":"f","x":2.75,"y":1.12},{"id":"b16","k":"f","x":3.0,"y":1.15},{"id":"b16","k":"f","x":3.25,"y":1.18},{"id":"b16","k":"f","x":3.5,"y":1.2},{"id":"b16","k":"f","x":3.75,"y":1.12},{"id":"b16","k":"f","x":4.0,"y":1.05},
{"id":"bm","k":"m","x":0,"y":1.25},{"id":"bm","k":"m","x":0.1,"y":1.1},{"id":"bm","k":"m","x":0.2,"y":1.01},{"id":"bm","k":"m","x":0.25,"y":1.0},{"id":"bm","k":"m","x":0.3,"y":1.03},{"id":"bm","k":"m","x":0.4,"y":1.2},{"id":"bm","k":"m","x":0.5,"y":1.33},{"id":"bm","k":"m","x":0.6,"y":1.27},{"id":"bm","k":"m","x":0.7,"y":1.19},{"id":"bm","k":"m","x":0.75,"y":1.19},{"id":"bm","k":"m","x":0.8,"y":1.22},{"id":"bm","k":"m","x":0.9,"y":1.33},{"id":"bm","k":"m","x":1.0,"y":1.36},{"id":"bm","k":"m","x":1.05,"y":1.32},{"id":"bm","k":"m","x":1.1,"y":1.2},{"id":"bm","k":"m","x":1.2,"y":1.07},{"id":"bm","k":"m","x":1.3,"y":1.055},{"id":"bm","k":"m","x":1.5,"y":1.045},{"id":"bm","k":"m","x":1.75,"y":1.02},{"id":"bm","k":"m","x":2.0,"y":0.97},{"id":"bm","k":"m","x":2.25,"y":0.935},{"id":"bm","k":"m","x":2.4,"y":0.93},{"id":"bm","k":"m","x":2.5,"y":0.96},{"id":"bm","k":"m","x":2.75,"y":1.04},{"id":"bm","k":"m","x":3.0,"y":1.05},{"id":"bm","k":"m","x":3.1,"y":1.045},{"id":"bm","k":"m","x":3.25,"y":1.0},{"id":"bm","k":"m","x":3.5,"y":0.93},{"id":"bm","k":"m","x":3.75,"y":0.9},{"id":"bm","k":"m","x":4.0,"y":0.895},
{"id":"bu","k":"d","x":0,"y":1.38},{"id":"bu","k":"d","x":0.1,"y":1.25},{"id":"bu","k":"d","x":0.2,"y":1.18},{"id":"bu","k":"d","x":0.25,"y":1.17},{"id":"bu","k":"d","x":0.3,"y":1.2},{"id":"bu","k":"d","x":0.4,"y":1.4},{"id":"bu","k":"d","x":0.5,"y":1.54},{"id":"bu","k":"d","x":0.6,"y":1.45},{"id":"bu","k":"d","x":0.7,"y":1.32},{"id":"bu","k":"d","x":0.75,"y":1.31},{"id":"bu","k":"d","x":0.8,"y":1.35},{"id":"bu","k":"d","x":0.9,"y":1.45},{"id":"bu","k":"d","x":1.0,"y":1.49},{"id":"bu","k":"d","x":1.05,"y":1.46},{"id":"bu","k":"d","x":1.1,"y":1.35},{"id":"bu","k":"d","x":1.2,"y":1.18},{"id":"bu","k":"d","x":1.3,"y":1.155},{"id":"bu","k":"d","x":1.5,"y":1.14},{"id":"bu","k":"d","x":1.75,"y":1.12},{"id":"bu","k":"d","x":2.0,"y":1.06},{"id":"bu","k":"d","x":2.25,"y":1.02},{"id":"bu","k":"d","x":2.4,"y":1.03},{"id":"bu","k":"d","x":2.5,"y":1.08},{"id":"bu","k":"d","x":2.75,"y":1.12},{"id":"bu","k":"d","x":3.0,"y":1.16},{"id":"bu","k":"d","x":3.1,"y":1.18},{"id":"bu","k":"d","x":3.25,"y":1.15},{"id":"bu","k":"d","x":3.5,"y":1.05},{"id":"bu","k":"d","x":3.75,"y":1.03},{"id":"bu","k":"d","x":4.0,"y":0.975},
{"id":"bl","k":"d","x":0,"y":1.12},{"id":"bl","k":"d","x":0.1,"y":0.92},{"id":"bl","k":"d","x":0.2,"y":0.83},{"id":"bl","k":"d","x":0.25,"y":0.82},{"id":"bl","k":"d","x":0.3,"y":0.86},{"id":"bl","k":"d","x":0.4,"y":1.05},{"id":"bl","k":"d","x":0.5,"y":1.14},{"id":"bl","k":"d","x":0.6,"y":1.1},{"id":"bl","k":"d","x":0.7,"y":1.05},{"id":"bl","k":"d","x":0.75,"y":1.06},{"id":"bl","k":"d","x":0.8,"y":1.09},{"id":"bl","k":"d","x":0.9,"y":1.2},{"id":"bl","k":"d","x":1.0,"y":1.24},{"id":"bl","k":"d","x":1.05,"y":1.2},{"id":"bl","k":"d","x":1.1,"y":1.05},{"id":"bl","k":"d","x":1.2,"y":0.93},{"id":"bl","k":"d","x":1.3,"y":0.935},{"id":"bl","k":"d","x":1.5,"y":0.955},{"id":"bl","k":"d","x":1.75,"y":0.94},{"id":"bl","k":"d","x":2.0,"y":0.885},{"id":"bl","k":"d","x":2.25,"y":0.84},{"id":"bl","k":"d","x":2.4,"y":0.83},{"id":"bl","k":"d","x":2.5,"y":0.86},{"id":"bl","k":"d","x":2.75,"y":0.96},{"id":"bl","k":"d","x":3.0,"y":0.94},{"id":"bl","k":"d","x":3.1,"y":0.9},{"id":"bl","k":"d","x":3.25,"y":0.83},{"id":"bl","k":"d","x":3.5,"y":0.78},{"id":"bl","k":"d","x":3.75,"y":0.775},{"id":"bl","k":"d","x":4.0,"y":0.82}
]
},
"hconcat": [
{
"width": 390, "height": 295,
"data": {"name": "pa"},
"title": {"text": "(a)", "orient": "bottom", "font": "Liberation Sans", "fontSize": 20, "fontWeight": "normal", "color": "#111", "offset": 28},
"encoding": {
"x": {"field": "x", "type": "quantitative", "scale": {"domain": [0, 4], "nice": false, "zero": false}, "axis": {"values": [0, 0.5, 1, 1.5, 2, 2.5, 3, 3.5, 4], "format": ".1f", "title": "Tₐₙ/T₁", "labelFlush": false}},
"y": {"field": "y", "type": "quantitative", "scale": {"domain": [0.7, 1.875], "nice": false, "zero": false}, "axis": {"values": [0.8, 1.0, 1.2, 1.4, 1.6, 1.8], "format": ".1f", "title": "AFᵣₛₜᵣ", "titlePadding": 17}},
"detail": {"field": "id"},
"color": {"field": "k", "type": "nominal", "scale": {"domain": ["f", "m", "d"], "range": ["#8a8a8a", "#000000", "#111111"]}, "legend": {"title": null, "labelExpr": "datum.label == 'f' ? '38 individual frames' : datum.label == 'm' ? 'Mean' : 'μ ± δ'", "labelFontStyle": {"expr": "datum.value == 'd' ? 'italic' : 'normal'"}}},
"strokeDash": {"field": "k", "type": "nominal", "scale": {"domain": ["f", "m", "d"], "range": [[1, 0], [1, 0], [6, 4]]}, "legend": {"title": null, "labelExpr": "datum.label == 'f' ? '38 individual frames' : datum.label == 'm' ? 'Mean' : 'μ ± δ'", "labelFontStyle": {"expr": "datum.value == 'd' ? 'italic' : 'normal'"}}},
"strokeWidth": {"field": "k", "type": "nominal", "scale": {"domain": ["f", "m", "d"], "range": [1, 3, 2]}, "legend": {"title": null, "labelExpr": "datum.label == 'f' ? '38 individual frames' : datum.label == 'm' ? 'Mean' : 'μ ± δ'", "labelFontStyle": {"expr": "datum.value == 'd' ? 'italic' : 'normal'"}}}
},
"layer": [
{"transform": [{"filter": "datum.k == 'f'"}], "mark": {"type": "line", "clip": true, "opacity": 0.85}},
{"transform": [{"filter": "datum.k == 'd'"}], "mark": {"type": "line", "clip": true, "interpolate": "monotone"}},
{"transform": [{"filter": "datum.k == 'm'"}], "mark": {"type": "line", "clip": true, "interpolate": "monotone"}}
]
},
{
"width": 390, "height": 295,
"data": {"name": "pb"},
"title": {"text": "(b)", "orient": "bottom", "font": "Liberation Sans", "fontSize": 20, "fontWeight": "normal", "color": "#111", "offset": 28},
"encoding": {
"x": {"field": "x", "type": "quantitative", "scale": {"domain": [0, 4], "nice": false, "zero": false}, "axis": {"values": [0, 0.5, 1, 1.5, 2, 2.5, 3, 3.5, 4], "format": ".1f", "title": "Tₐₙ/T₂", "labelFlush": false}},
"y": {"field": "y", "type": "quantitative", "scale": {"domain": [0.671, 1.934], "nice": false, "zero": false}, "axis": {"values": [0.8, 1.0, 1.2, 1.4, 1.6, 1.8], "format": ".1f", "title": "AFᵣₛₜᵣ", "titlePadding": 17}},
"detail": {"field": "id"},
"color": {"field": "k", "type": "nominal", "scale": {"domain": ["f", "m", "d"], "range": ["#8a8a8a", "#000000", "#111111"]}, "legend": {"title": null, "labelExpr": "datum.label == 'f' ? '38 individual frames' : datum.label == 'm' ? 'Mean' : 'μ ± δ'", "labelFontStyle": {"expr": "datum.value == 'd' ? 'italic' : 'normal'"}}},
"strokeDash": {"field": "k", "type": "nominal", "scale": {"domain": ["f", "m", "d"], "range": [[1, 0], [1, 0], [6, 4]]}, "legend": {"title": null, "labelExpr": "datum.label == 'f' ? '38 individual frames' : datum.label == 'm' ? 'Mean' : 'μ ± δ'", "labelFontStyle": {"expr": "datum.value == 'd' ? 'italic' : 'normal'"}}},
"strokeWidth": {"field": "k", "type": "nominal", "scale": {"domain": ["f", "m", "d"], "range": [1, 3, 2]}, "legend": {"title": null, "labelExpr": "datum.label == 'f' ? '38 individual frames' : datum.label == 'm' ? 'Mean' : 'μ ± δ'", "labelFontStyle": {"expr": "datum.value == 'd' ? 'italic' : 'normal'"}}}
},
"layer": [
{"transform": [{"filter": "datum.k == 'f'"}], "mark": {"type": "line", "clip": true, "opacity": 0.85}},
{"transform": [{"filter": "datum.k == 'd'"}], "mark": {"type": "line", "clip": true, "interpolate": "monotone"}},
{"transform": [{"filter": "datum.k == 'm'"}], "mark": {"type": "line", "clip": true, "interpolate": "monotone"}}
]
}
],
"config": {
"view": {"stroke": "#222", "strokeWidth": 1},
"axis": {"labelFont": "Liberation Serif", "labelFontSize": 23, "labelColor": "#222", "tickColor": "#222", "tickSize": 4, "domain": false, "grid": true, "gridColor": "#c4c4c4", "gridWidth": 1, "titleFont": "DejaVu Sans", "titleFontSize": 24, "titleFontWeight": "normal", "titleFontStyle": "italic", "titleColor": "#222", "labelPadding": 2, "titlePadding": 6},
"legend": {"orient": "top-right", "offset": 6, "fillColor": "rgba(255,255,255,0.85)", "strokeColor": "#d0d0d0", "cornerRadius": 4, "padding": 3, "labelFont": "DejaVu Sans", "labelFontSize": 17, "labelColor": "#222", "symbolType": "stroke", "symbolSize": 1200, "rowPadding": -6, "labelOffset": 15, "labelLimit": 300}
}
}
